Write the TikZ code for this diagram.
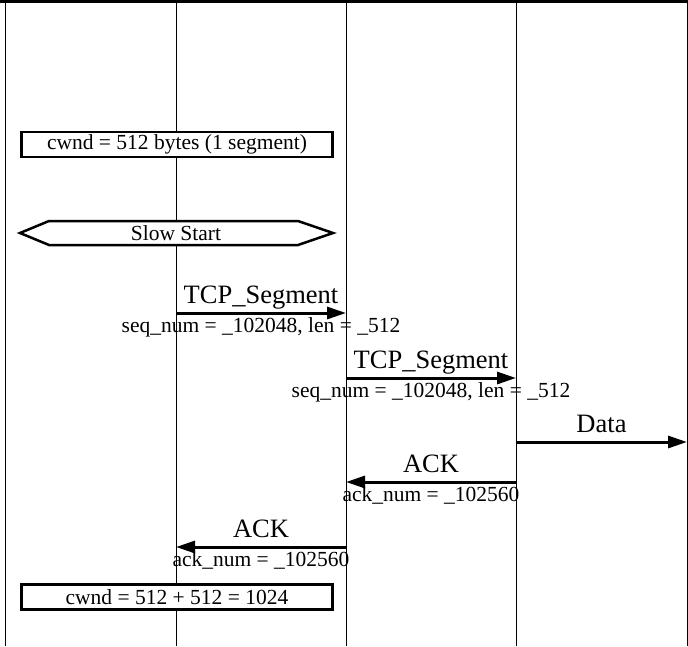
\documentclass[tikz,border=0pt]{standalone}
\usepackage{fontspec}
\setmainfont{Liberation Serif}
\usetikzlibrary{arrows.meta,positioning,calc}

\begin{document}
\begin{tikzpicture}[x=1pt, y=-1pt, >={Triangle[length=19pt,width=12pt]},
  lifeline/.style={line width=1pt},
  msg/.style={->, line width=3pt},
  msgtop/.style={midway, anchor=base, yshift=10pt, font=\fontsize{26.5}{30}\selectfont},
  msgbot/.style={midway, anchor=base, yshift=-19.5pt, font=\fontsize{21.5}{24}\selectfont},
  note/.style={draw, line width=2.5pt, fill=white, minimum width=311pt, minimum height=25pt, inner sep=0pt, font=\fontsize{21.5}{24}\selectfont}]
\useasboundingbox (0,0) rectangle (688,646);
\coordinate (topl) at (0,1.5);
\coordinate (topr) at (688,1.5);
\draw[line width=3pt] (topl) -- (topr);
\foreach \x/\n in {5/la,176/lb,346/lc,516/ld,687/le} {
  \coordinate (\n-top) at (\x,2);
  \coordinate (\n-bot) at (\x,646);
  \draw[lifeline] (\n-top) -- (\n-bot);
}
\node[note] (cw1) at (177,144.5) {cwnd = 512 bytes (1 segment)};
\draw[line width=2.5pt, fill=white] (20,233) -- (49,221) -- (298,221) -- (333,233) -- (298,245) -- (49,245) -- cycle;
\node[font=\fontsize{21.5}{24}\selectfont] (ss) at (176,233) {Slow Start};
\coordinate (m1s) at (176,313);
\coordinate (m1e) at (346,313);
\draw[msg] (m1s) -- node[msgtop] {TCP\_Segment} node[msgbot] {seq\_num = \_102048, len = \_512} (m1e);
\coordinate (m2s) at (346,378);
\coordinate (m2e) at (516,378);
\draw[msg] (m2s) -- node[msgtop] {TCP\_Segment} node[msgbot] {seq\_num = \_102048, len = \_512} (m2e);
\coordinate (m3s) at (516,442);
\coordinate (m3e) at (687,442);
\draw[msg] (m3s) -- node[msgtop] {Data} (m3e);
\coordinate (m4s) at (516,482);
\coordinate (m4e) at (346,482);
\draw[msg] (m4s) -- node[msgtop] {ACK} node[msgbot] {ack\_num = \_102560} (m4e);
\coordinate (m5s) at (346,547);
\coordinate (m5e) at (176,547);
\draw[msg] (m5s) -- node[msgtop] {ACK} node[msgbot] {ack\_num = \_102560} (m5e);
\node[note] (cw2) at (177,597) {cwnd = 512 + 512 = 1024};
\end{tikzpicture}
\end{document}
